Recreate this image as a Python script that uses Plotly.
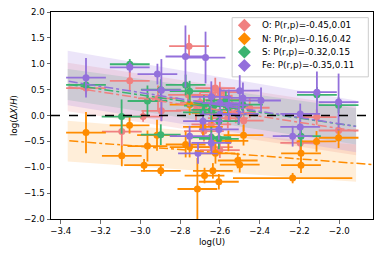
import plotly.graph_objects as go

# ---------------- data ----------------
O_x = [-3.273, -3.053, -2.911, -2.894, -2.986, -3.093, -2.755, -2.623, -2.643, -2.635,
       -2.600, -2.113, -2.196, -2.003, -2.700, -2.580, -2.520, -2.450, -2.640, -2.560,
       -2.720, -2.480, -2.600, -2.680, -2.540, -2.760]
O_y = [0.53, 0.67, 0.33, 0.09, -0.02, -0.31, 1.34, 0.53, -0.17, -0.61,
       -0.67, -0.03, -0.53, -0.29, 0.25, 0.30, 0.05, 0.15, 0.38, -0.05,
       0.10, -0.10, 0.45, -0.30, 0.20, 0.40]
O_xe = [0.1] * 26
O_ye = [0.12, 0.2, 0.25, 0.2, 0.1, 0.29, 0.22, 0.2, 0.15, 0.15,
        0.15, 0.15, 0.2, 0.15, 0.2, 0.2, 0.2, 0.2, 0.2, 0.2,
        0.2, 0.2, 0.2, 0.2, 0.2, 0.2]

N_x = [-3.273, -3.054, -3.093, -2.964, -2.981, -2.897, -2.916, -2.772, -2.752, -2.752,
       -2.685, -2.557, -2.622, -2.677, -2.635, -2.605, -2.713, -2.510, -2.500, -2.481,
       -2.234, -2.192, -2.192, -2.114, -2.003, -2.640]
N_y = [-0.33, -0.19, -0.78, -0.59, -0.96, -1.07, -0.38, -0.56, -0.61, 0.21,
       -0.22, -0.49, -0.73, -1.16, -1.07, -1.28, -1.42, -0.87, -0.95, -0.38,
       -1.21, -0.73, -0.96, -0.50, -0.43, 0.05]
N_xe = [0.1] * 20 + [0.3, 0.1, 0.1, 0.1, 0.1, 0.1]
N_ye = [0.4, 0.16, 0.2, 0.3, 0.12, 0.1, 0.3, 0.25, 0.2, 0.2,
        0.2, 0.2, 0.2, 0.15, 0.15, 0.15, 0.6, 0.15, 0.15, 0.2,
        0.1, 0.2, 0.15, 0.2, 0.2, 0.2]

S_x = [-3.273, -3.053, -2.897, -2.964, -3.094, -2.897, -2.772, -2.752, -2.680, -2.630,
       -2.560, -2.685, -2.643, -2.605, -2.643, -2.605, -2.570, -2.484, -2.506, -2.112,
       -2.003, -2.192]
S_y = [0.59, 0.99, 0.50, 0.28, -0.02, -0.37, 0.59, 0.47, 0.19, 0.19,
       0.19, 0.06, 0.11, -0.11, -0.42, -0.45, 0.29, 0.21, 0.02, 0.40,
       0.20, -0.40]
S_xe = [0.1] * 22
S_ye = [0.1, 0.1, 0.2, 0.3, 0.33, 0.2, 0.2, 0.2, 0.2, 0.2,
        0.2, 0.2, 0.2, 0.2, 0.2, 0.2, 0.2, 0.2, 0.2, 0.15,
        0.15, 0.2]

Fe_x = [-3.273, -3.053, -2.914, -2.894, -2.773, -2.672, -2.643, -2.600, -2.555, -2.600,
        -2.685, -2.605, -2.752, -2.643, -2.710, -2.500, -2.484, -2.393, -2.505, -2.112,
        -2.003, -2.196, -2.196, -2.234]
Fe_y = [0.73, 0.93, 0.80, 0.49, 1.14, 1.12, 0.36, 0.24, 0.20, 0.02,
        -0.11, -0.27, -0.40, -0.53, -0.73, 0.48, 0.34, 0.29, 0.03, 0.45,
        0.26, 0.03, -0.22, -0.40]
Fe_xe = [0.1] * 24
Fe_ye = [0.38, 0.1, 0.2, 0.6, 0.6, 0.5, 0.3, 0.3, 0.3, 0.2,
         0.2, 0.2, 0.2, 0.2, 0.2, 0.3, 0.3, 0.25, 0.2, 0.4,
         0.55, 0.2, 0.2, 0.2]

labels = ["O: P(r,p)=-0.45,0.01", "N: P(r,p)=-0.16,0.42",
          "S: P(r,p)=-0.32,0.15", "Fe: P(r,p)=-0.35,0.11"]
colors = ["#F08080", "#FF8C00", "#3CB371", "#9370DB"]
band_rgba = ["rgba(240,128,128,0.18)", "rgba(255,140,0,0.15)",
             "rgba(60,179,113,0.18)", "rgba(147,112,219,0.18)"]

# regression lines: x start/end, y start/end
fit_x0 = [-3.36, -3.357, -3.36, -3.36]
fit_x1 = [-1.915, -1.83, -1.915, -1.915]
fit_y0 = [0.55, -0.49, 0.60, 0.66]
fit_y1 = [-0.30, -0.95, -0.21, -0.21]
# confidence bands: x start/end, top/bottom at start and end
band_x0 = [-3.365, -3.365, -3.365, -3.365]
band_x1 = [-1.915, -1.915, -1.915, -1.915]
band_top0 = [1.02, -0.10, 0.90, 1.25]
band_top1 = [0.17, -0.56, 0.14, 0.29]
band_bot0 = [0.08, -0.89, 0.30, 0.20]
band_bot1 = [-0.77, -1.28, -0.56, -0.71]

xs = [O_x, N_x, S_x, Fe_x]
ys = [O_y, N_y, S_y, Fe_y]
xes = [O_xe, N_xe, S_xe, Fe_xe]
yes = [O_ye, N_ye, S_ye, Fe_ye]

# plot area in pixels (for legend placement)
L, R, T, B = 51, 374, 10, 219
W, H = 381, 256

def px_to_paper_x(px):
    return (px - L) / (R - L)

def px_to_paper_y(py):
    return (B - py) / (B - T)

fig = go.Figure()

for i in range(4):
    fig.add_trace(go.Scatter(
        x=[band_x0[i], band_x1[i], band_x1[i], band_x0[i], band_x0[i]],
        y=[band_top0[i], band_top1[i], band_bot1[i], band_bot0[i], band_top0[i]],
        fill="toself", fillcolor=band_rgba[i], mode="lines",
        line=dict(width=0), hoverinfo="skip", showlegend=False))

for i in range(4):
    fig.add_trace(go.Scatter(
        x=xs[i], y=ys[i], mode="markers",
        marker=dict(color=colors[i], size=7, line=dict(width=0)),
        error_x=dict(type="data", array=xes[i], color=colors[i], thickness=1.8, width=0),
        error_y=dict(type="data", array=yes[i], color=colors[i], thickness=1.8, width=0),
        showlegend=False))

for i in range(4):
    fig.add_trace(go.Scatter(
        x=[fit_x0[i], fit_x1[i]], y=[fit_y0[i], fit_y1[i]], mode="lines",
        line=dict(color=colors[i], width=1.5, dash="dashdot"),
        hoverinfo="skip", showlegend=False))

fig.add_shape(type="line", xref="paper", yref="y", x0=0, x1=1, y0=0, y1=0,
              line=dict(color="black", width=1.5, dash="dash"), layer="above")

# ---- manual legend (matplotlib-like compact spacing) ----
leg_rows_py = [23.5, 37.0, 50.5, 64.0]
leg_marker_px = 245.0
leg_text_px = 261.0
fig.add_shape(type="rect", xref="paper", yref="paper",
              x0=px_to_paper_x(232.7), x1=px_to_paper_x(369.3),
              y0=px_to_paper_y(75.5), y1=px_to_paper_y(15.7),
              fillcolor="rgba(255,255,255,0.85)", line=dict(color="#cccccc", width=1),
              layer="below")
fig.add_trace(go.Scatter(
    x=[px_to_paper_x(leg_marker_px)] * 4, y=[px_to_paper_y(p) for p in leg_rows_py],
    xaxis="x2", yaxis="y2", mode="markers",
    marker=dict(color=colors, size=10, symbol="diamond", line=dict(width=0)),
    hoverinfo="skip", showlegend=False))
for i in range(4):
    fig.add_annotation(x=px_to_paper_x(leg_text_px), y=px_to_paper_y(leg_rows_py[i]),
                       xref="paper", yref="paper", text=labels[i], showarrow=False,
                       xanchor="left", yanchor="middle", font=dict(size=8.8))

xt = [-3.4, -3.2, -3.0, -2.8, -2.6, -2.4, -2.2, -2.0]
yt = [-2.0, -1.5, -1.0, -0.5, 0.0, 0.5, 1.0, 1.5, 2.0]

def fmt(v):
    s = f"{v:.1f}"
    return s.replace("-", "\u2212")

fig.update_layout(
    width=W, height=H,
    margin=dict(l=L, r=W - R, t=T, b=H - B),
    paper_bgcolor="white", plot_bgcolor="white",
    font=dict(family="DejaVu Sans", size=8.6, color="black"),
    showlegend=False,
    xaxis=dict(range=[-3.449, -1.83], tickvals=xt, ticktext=[fmt(v) for v in xt],
               showgrid=False, zeroline=False, showline=True, linecolor="black",
               linewidth=1, mirror=True, ticks="outside", ticklen=3.5, tickwidth=0.8,
               title=dict(text="log(U)", standoff=4, font=dict(size=8.6))),
    yaxis=dict(range=[-2, 2], tickvals=yt, ticktext=[fmt(v) for v in yt],
               showgrid=False, zeroline=False, showline=True, linecolor="black",
               linewidth=1, mirror=True, ticks="outside", ticklen=3.5, tickwidth=0.8,
               title=dict(text="log(Δ<i>X</i>/<i>H</i>)", standoff=4, font=dict(size=8.6))),
    xaxis2=dict(overlaying="x", range=[0, 1], visible=False, fixedrange=True),
    yaxis2=dict(overlaying="y", range=[0, 1], visible=False, fixedrange=True),
)

fig.write_html("out.html",
               config={"displayModeBar": False, "staticPlot": True},
               post_script="document.body.style.margin='0';document.body.style.overflow='hidden';")
